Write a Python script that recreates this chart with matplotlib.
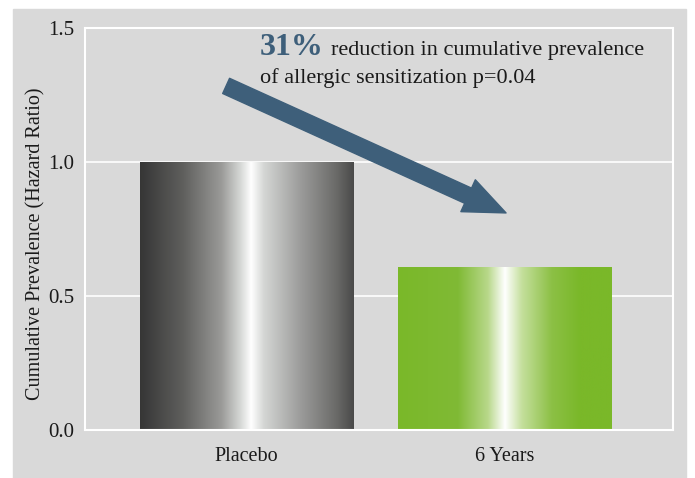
'''
Cumulative prevalence of allergic sensitization, placebo vs 6 years.
'''

import matplotlib.pyplot as plt
import numpy as np
from matplotlib.colors import LinearSegmentedColormap
from matplotlib.patches import Rectangle

plt.rcParams['font.family'] = ['Liberation Serif', 'DejaVu Serif']

# data
groups = ['Placebo', '6 Years']
hazard_ratio = [1.0, 0.61]
yticks = [0.0, 0.5, 1.0, 1.5]
headline = '31%'
note_line1 = 'reduction in cumulative prevalence'
note_line2 = 'of allergic sensitization p=0.04'

# gradients for the bars (left -> right)
grey_cmap = LinearSegmentedColormap.from_list('grey', [
    (0.0, '#363636'), (0.2, '#5f5f5d'), (0.38, '#9a9a98'), (0.47, '#d6d8d6'),
    (0.52, '#ffffff'), (0.58, '#d4d6d4'), (0.75, '#9c9c9b'), (0.92, '#6a6a68'),
    (1.0, '#4a4a4a')])
green_cmap = LinearSegmentedColormap.from_list('green', [
    (0.0, '#7ab829'), (0.28, '#80ba35'), (0.42, '#b8d88a'), (0.5, '#ffffff'),
    (0.58, '#c4df9c'), (0.72, '#8cc045'), (0.85, '#7ab829'), (1.0, '#7ab829')])
cmaps = [grey_cmap, green_cmap]

bg = '#d9d9d9'

fig = plt.figure(figsize=(6.95, 4.78), dpi=100, facecolor='white')
fig.patches.append(Rectangle((13 / 695, 0), 673 / 695, 469 / 478,
                             transform=fig.transFigure, color=bg, zorder=-1))
ax = fig.add_axes([0.1223, 0.1004, 0.846, 0.841])
ax.set_facecolor(bg)

x = np.arange(len(groups))
bars = ax.bar(x, hazard_ratio, width=0.826, color='none', zorder=2)

grad = np.linspace(0, 1, 256).reshape(1, -1)
for b, cm in zip(bars, cmaps):
    x0, y0 = b.get_x(), b.get_y()
    im = ax.imshow(grad, cmap=cm, aspect='auto', zorder=2,
                   extent=[x0, x0 + b.get_width(), y0, y0 + b.get_height()])
    im.set_clip_path(b)

ax.set_xlim(-0.626, 1.653)
ax.set_ylim(0, 1.5)
ax.set_xticks(x)
ax.set_xticklabels(groups, fontsize=14.5, color='#1a1a1a')
ax.set_yticks(yticks)
ax.set_yticklabels(['{:.1f}'.format(v) for v in yticks], fontsize=15, color='#1a1a1a')
ax.tick_params(axis='both', length=0)
ax.tick_params(axis='y', pad=8)
ax.tick_params(axis='x', pad=12)
ax.grid(axis='y', color='white', linewidth=1.2, zorder=1)
ax.set_axisbelow(True)
for s in ax.spines.values():
    s.set_color('white')
    s.set_linewidth(1.5)
ax.set_ylabel('Cumulative Prevalence (Hazard Ratio)', fontsize=14.5, color='#1a1a1a')
ax.yaxis.set_label_coords(-0.068, 0.463)

# annotation arrow and text
ax.annotate('', xy=(1.006, 0.81), xytext=(-0.079, 1.284),
            arrowprops=dict(arrowstyle='simple,head_width=2.1,head_length=2.5,tail_width=1.0',
                            mutation_scale=12, color='#3e5f7a', shrinkA=0, shrinkB=0),
            zorder=3)
fig.text(260 / 695, 1 - 55 / 478, headline, fontsize=23, fontweight='bold',
         color='#3e5f7a', va='baseline')
fig.text(331 / 695, 1 - 55 / 478, note_line1, fontsize=16, color='#1a1a1a', va='baseline')
fig.text(260 / 695, 1 - 83 / 478, note_line2, fontsize=16, color='#1a1a1a', va='baseline')

fig.savefig('out.png', dpi=100, facecolor=fig.get_facecolor())
